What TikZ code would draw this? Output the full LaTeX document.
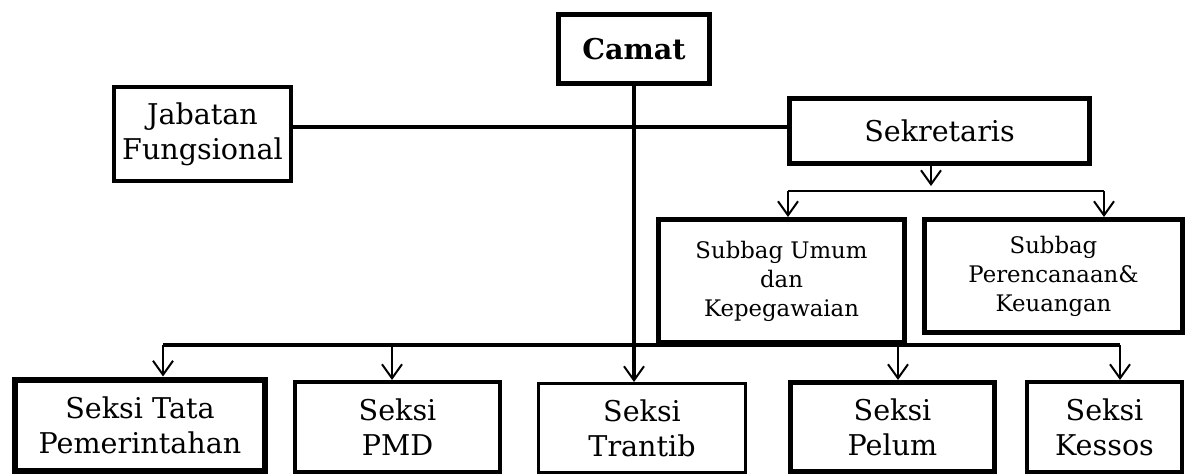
\documentclass[tikz,border=0pt]{standalone}
\usepackage{fontspec}
\setmainfont{DejaVu Serif}
\usetikzlibrary{arrows.meta}

\begin{document}
\begin{tikzpicture}[x=0.5pt,y=-0.5pt,
    unit/.style={draw,line width=2.5pt,align=center,inner sep=0pt,
      font=\fontsize{14.3}{17.5}\selectfont},
    subunit/.style={unit,font=\fontsize{11.4}{14.5}\selectfont},
    link/.style={-{Straight Barb[length=7pt,width=10pt,line width=1pt]},line width=1pt},
    bus/.style={line width=2pt}]
  \useasboundingbox (0,0) rectangle (1194,476);

  \node[unit,minimum width=75.5pt,minimum height=34.5pt] (camat) at (634,49) {\textbf{Camat}};
  \node[unit,line width=2pt,minimum width=88.5pt,minimum height=47pt] (jabatan) at (202.5,134) {Jabatan\\Fungsional};
  \node[unit,minimum width=150pt,minimum height=32.5pt] (sekretaris) at (939.5,131) {Sekretaris};

  \node[subunit,minimum width=123pt,minimum height=61.5pt] (umum) at (781.5,281) {Subbag Umum\\dan\\Kepegawaian};
  \node[subunit,minimum width=129pt,minimum height=56.5pt] (rencana) at (1053.5,276) {Subbag\\Perencanaan\&\\Keuangan};

  \node[unit,line width=3pt,minimum width=125pt,minimum height=45.5pt] (tata) at (140,425) {Seksi Tata\\Pemerintahan};
  \node[unit,line width=2pt,minimum width=102.5pt,minimum height=45pt] (pmd) at (397.5,427) {Seksi\\PMD};
  \node[unit,line width=1.5pt,minimum width=103.5pt,minimum height=44.5pt] (trantib) at (642,428) {Seksi\\Trantib};
  \node[unit,minimum width=102pt,minimum height=44.5pt] (pelum) at (892.5,427) {Seksi\\Pelum};
  \node[unit,line width=2pt,minimum width=77.5pt,minimum height=45pt] (kessos) at (1104.5,427) {Seksi\\Kessos};

  % camat ke trantib
  \draw[link,line width=1.8pt] (camat.south) -- (camat.south |- trantib.north);
  % jabatan fungsional -- sekretaris
  \draw[bus] ([yshift=3.5pt]jabatan.east) -- ([yshift=3.5pt]jabatan.east -| sekretaris.west);

  % sekretaris ke subbag
  \coordinate (sek) at (931,191);
  \coordinate (s1) at (788,191);
  \coordinate (s2) at (1104,191);
  \draw[link] (sekretaris.south -| sek) -- ([yshift=2.5pt]sek);
  \draw[line width=0.8pt] (s1) -- (s2);
  \draw[link] (s1) -- (s1 |- umum.north);
  \draw[link] (s2) -- (s2 |- rencana.north);

  % jalur seksi
  \coordinate (d1) at (163,345);
  \coordinate (d2) at (392,345);
  \coordinate (d3) at (898,345);
  \coordinate (d4) at (1120,345);
  \draw[bus] (d1) -- (d4);
  \foreach \d/\n in {d1/tata,d2/pmd,d3/pelum,d4/kessos}
    \draw[link] (\d) -- (\d |- \n.north);
\end{tikzpicture}
\end{document}
